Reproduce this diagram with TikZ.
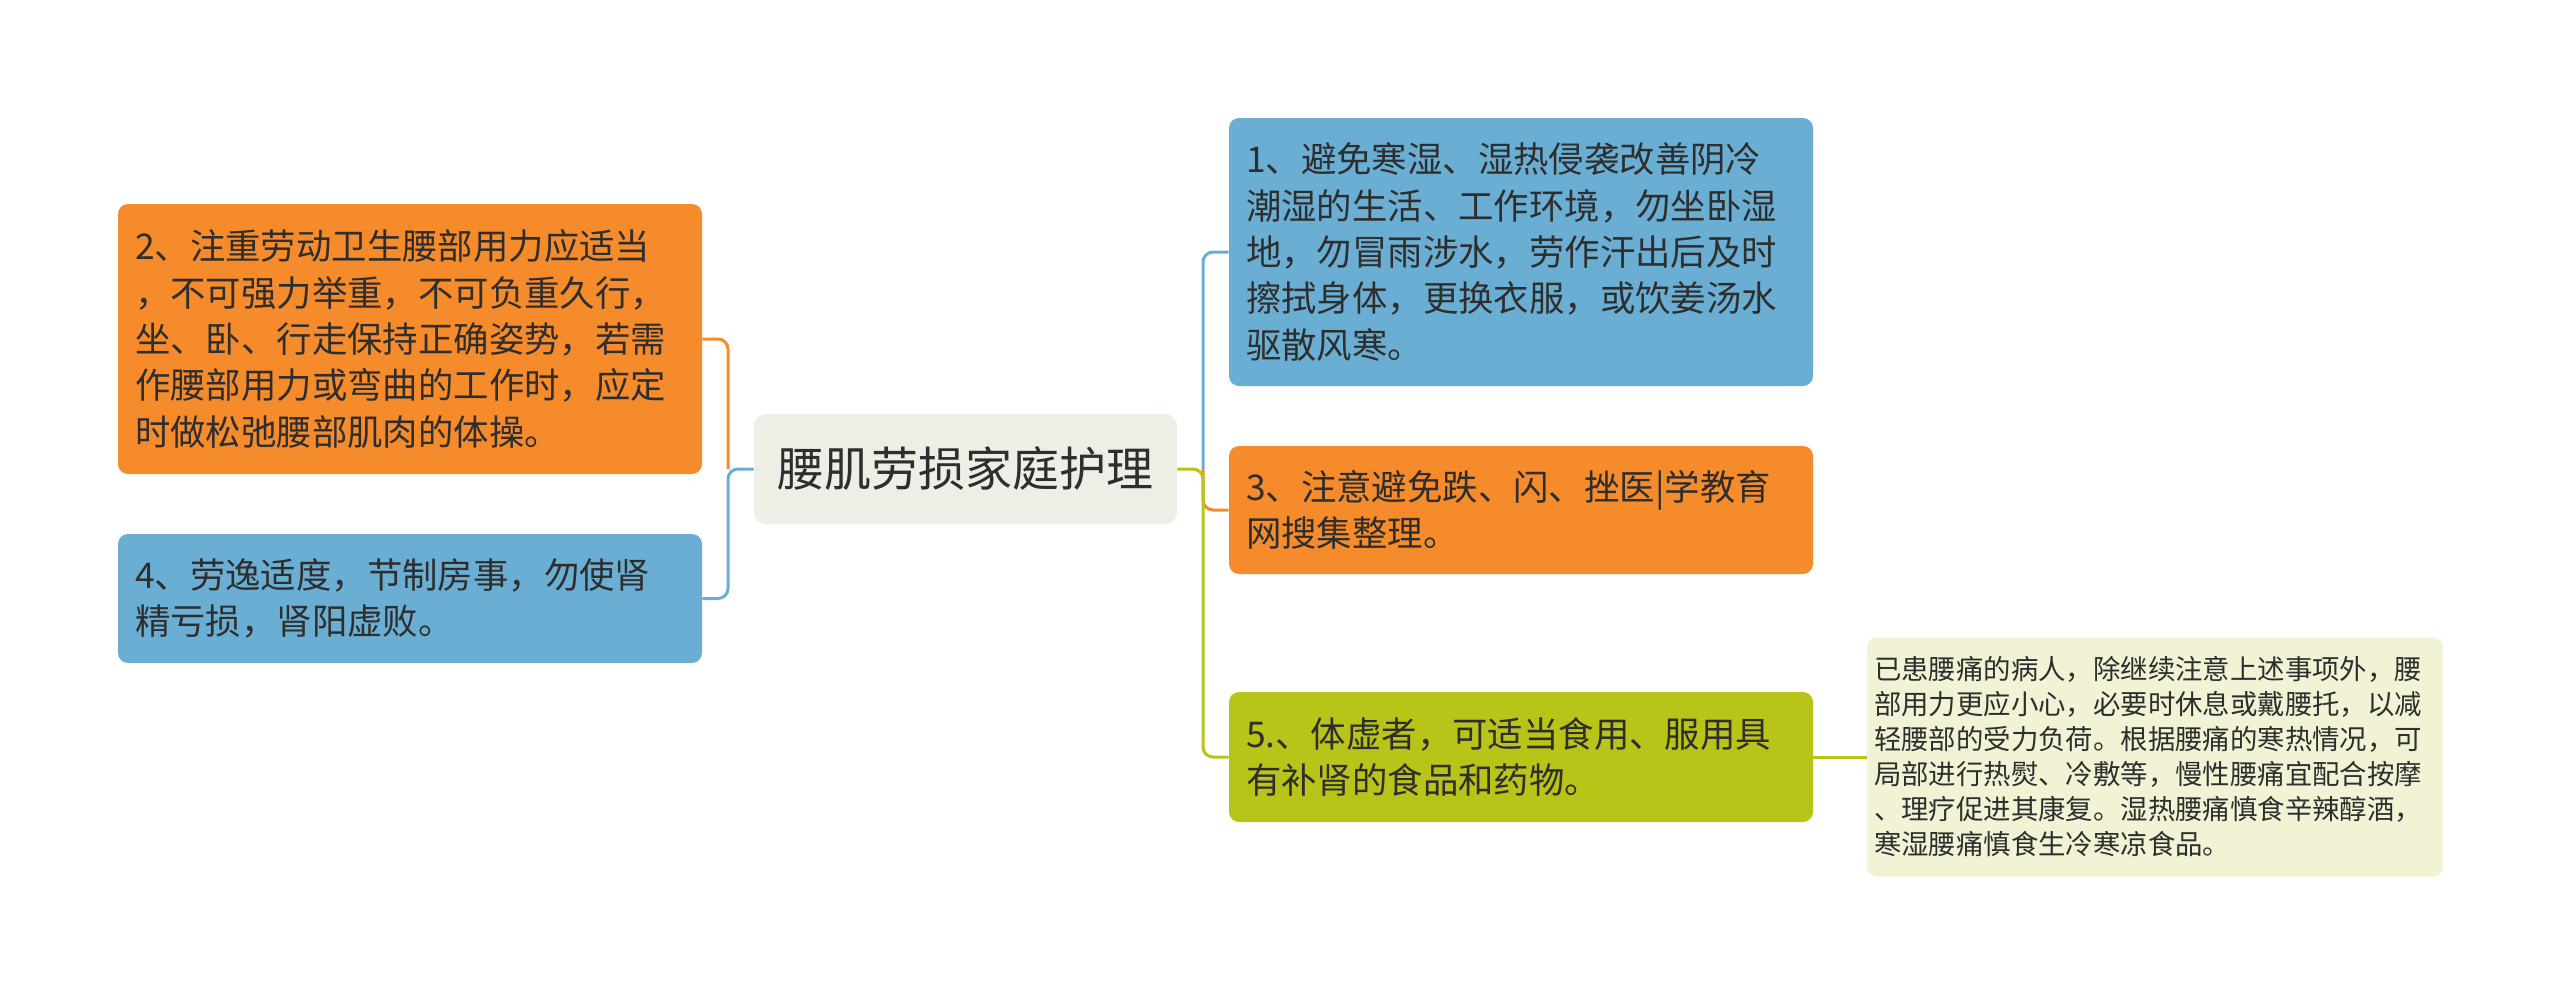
\documentclass[tikz,border=0pt]{standalone}
\usepackage{fontspec}
\setmainfont{Noto Sans CJK SC}
\usetikzlibrary{calc}
\definecolor{nodeblue}{HTML}{6AAFD3}
\definecolor{nodeorange}{HTML}{F68B2C}
\definecolor{nodegreen}{HTML}{B8C417}
\definecolor{rootfill}{HTML}{EEEEE6}
\definecolor{notefill}{HTML}{F1F3D4}
\definecolor{inktext}{HTML}{2E2E2E}
\tikzset{
  topic/.style={rounded corners=5pt, text=inktext, align=left, inner xsep=8.5pt,
    minimum width=292pt, text width=275pt, font=\fontsize{17.7}{23.2}\selectfont},
  bluetopic/.style={topic, fill=nodeblue},
  orangetopic/.style={topic, fill=nodeorange},
  greentopic/.style={topic, fill=nodegreen},
  branch/.style={line width=1.5pt, rounded corners=5pt},
}

\begin{document}
\begin{tikzpicture}[x=0.5pt, y=-0.5pt]
			%%%%% START %%%%%
			
			\useasboundingbox[fill=white] (0, 0) rectangle (2560, 993);
			
			\node[fill=rootfill, rounded corners=6pt, minimum width=211.5pt, minimum height=55pt, text=inktext,
			  font=\fontsize{23.5}{28}\selectfont] (root) at (965.5, 469) {腰肌劳损家庭护理};
			
			\node[orangetopic, minimum height=135pt] (t2) at (410, 339)
			  {2、注重劳动卫生腰部用力应适当\\，不可强力举重，不可负重久行，\\坐、卧、行走保持正确姿势，若需\\作腰部用力或弯曲的工作时，应定\\时做松弛腰部肌肉的体操。};
			\node[bluetopic, minimum height=64.5pt] (t4) at (410, 598.5)
			  {4、劳逸适度，节制房事，勿使肾\\精亏损，肾阳虚败。};
			
			\node[bluetopic, minimum height=134pt] (t1) at (1521, 252)
			  {1、避免寒湿、湿热侵袭改善阴冷\\潮湿的生活、工作环境，勿坐卧湿\\地，勿冒雨涉水，劳作汗出后及时\\擦拭身体，更换衣服，或饮姜汤水\\驱散风寒。};
			\node[orangetopic, minimum height=64pt] (t3) at (1521, 510)
			  {3、注意避免跌、闪、挫医|学教育\\网搜集整理。};
			\node[greentopic, minimum height=65pt] (t5) at (1521, 757)
			  {5.、体虚者，可适当食用、服用具\\有补肾的食品和药物。};
			
			\node[fill=notefill, rounded corners=5pt, text=inktext, align=left, inner xsep=3.5pt,
			  minimum width=288pt, minimum height=119.5pt, text width=281pt,
			  font=\fontsize{13.7}{17.5}\selectfont] (n5) at (2155, 757)
			  {已患腰痛的病人，除继续注意上述事项外，腰\\部用力更应小心，必要时休息或戴腰托，以减\\轻腰部的受力负荷。根据腰痛的寒热情况，可\\局部进行热熨、冷敷等，慢性腰痛宜配合按摩\\、理疗促进其康复。湿热腰痛慎食辛辣醇酒，\\寒湿腰痛慎食生冷寒凉食品。};
			
			\coordinate (lj) at (728, 469);
			\coordinate (rj) at (1203, 469);
			
			\draw[branch, nodeorange] (lj) |- (t2.east);
			\draw[branch, nodeblue] (root.west) -- (lj) |- (t4.east);
			
			\draw[branch, nodeblue] (rj) |- (t1.west);
			\draw[branch, nodeorange] (rj) |- (t3.west);
			\draw[branch, nodegreen] (root.east) -- (rj) |- (t5.west);
			\draw[branch, nodegreen] (t5.east) -- (n5.west);
			
			%%%%% END %%%%%
		\end{tikzpicture}
\end{document}
